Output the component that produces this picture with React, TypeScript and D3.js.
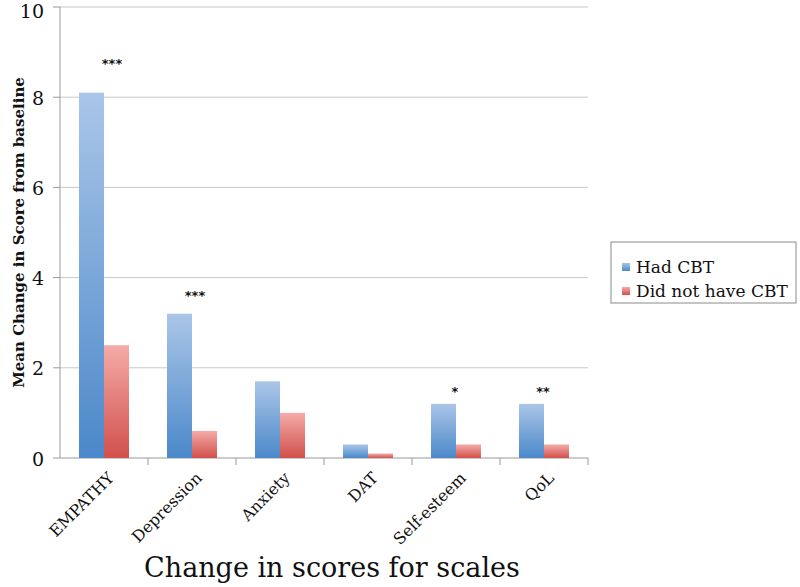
import React from "react";
import * as d3 from "d3";

const categories = ["EMPATHY", "Depression", "Anxiety", "DAT", "Self-esteem", "QoL"];
const hadCBT = [8.1, 3.2, 1.7, 0.3, 1.2, 1.2];
const noCBT = [2.5, 0.6, 1.0, 0.1, 0.3, 0.3];
const stars = ["***", "***", "", "", "*", "**"];
const starValues = [8.65, 3.5, 0, 0, 1.37, 1.37];
const starShift = [8, 3, 0, 0, -1, -1];
const yTicks = [0, 2, 4, 6, 8, 10];
const seriesNames = ["Had CBT", "Did not have CBT"];

export default function App() {
  const W = 800, H = 587;
  const left = 60, right = 588, top = 7, bottom = 458;
  const font = "'DejaVu Serif', serif";
  const x = d3.scaleBand<string>().domain(categories).range([left, right]).paddingInner(0).paddingOuter(0);
  const y = d3.scaleLinear().domain([0, 10]).range([bottom, top]);
  const bw = 25;
  const bandW = x.bandwidth();
  const groupOff = (bandW - 2 * bw) / 2;
  return (
    <svg width={W} height={H} style={{ position: "absolute", left: 0, top: 0, background: "#fff" }}>
      <defs>
        <linearGradient id="gBlue" x1="0" y1="0" x2="0" y2="1">
          <stop offset="0" stopColor="#aac6e8" />
          <stop offset="1" stopColor="#4b88ca" />
        </linearGradient>
        <linearGradient id="gRed" x1="0" y1="0" x2="0" y2="1">
          <stop offset="0" stopColor="#f5aba8" />
          <stop offset="1" stopColor="#d1504b" />
        </linearGradient>
      </defs>
      {yTicks.map((t) => (
        <g key={t}>
          {t > 0 && <line x1={left} x2={right} y1={y(t)} y2={y(t)} stroke="#c8c8c8" strokeWidth={1} />}
          <line x1={left - 7} x2={left} y1={y(t)} y2={y(t)} stroke="#9a9a9a" />
          <text x={44} y={Math.max(y(t) + 1, 11)} dy="0.35em" textAnchor="end" fontFamily={font} fontSize={19} fill="#111">{t}</text>
        </g>
      ))}
      <line x1={left} x2={left} y1={top} y2={bottom} stroke="#9a9a9a" />
      <line x1={left} x2={right} y1={bottom} y2={bottom} stroke="#9a9a9a" />
      {categories.map((c, i) => {
        const x0 = x(c)!;
        return (
          <g key={c}>
            <line x1={x0 + bandW} x2={x0 + bandW} y1={bottom} y2={bottom + 7} stroke="#9a9a9a" />
            <rect x={x0 + groupOff} y={y(hadCBT[i])} width={bw} height={bottom - y(hadCBT[i])} fill="url(#gBlue)" />
            <rect x={x0 + groupOff + bw} y={y(noCBT[i])} width={bw} height={bottom - y(noCBT[i])} fill="url(#gRed)" />
            {stars[i] && (
              <text x={x0 + groupOff + bw + starShift[i]} y={y(starValues[i])} textAnchor="middle" fontFamily="'DejaVu Sans', sans-serif" fontWeight="bold" fontSize={13} fill="#111">{stars[i]}</text>
            )}
            <text transform={`translate(${x0 + bandW / 2 + 7},${bottom + 17}) rotate(-45)`} textAnchor="end" dy="0.35em" fontFamily={font} fontSize={16} fill="#111">{c}</text>
          </g>
        );
      })}
      <text transform={`translate(19,${(top + bottom) / 2}) rotate(-90)`} textAnchor="middle" dy="0.35em" fontFamily={font} fontWeight="bold" fontSize={15} fill="#111">Mean Change in Score from baseline</text>
      <text x={332} y={577} textAnchor="middle" fontFamily={font} fontSize={27} fill="#111">Change in scores for scales</text>
      <rect x={611} y={242} width={185} height={61} fill="#fff" stroke="#8a8a8a" />
      {seriesNames.map((s, i) => (
        <g key={s}>
          <rect x={622} y={263 + i * 24} width={8} height={8} fill={i === 0 ? "url(#gBlue)" : "url(#gRed)"} />
          <text x={636} y={267 + i * 24} dy="0.35em" fontFamily={font} fontSize={17} fill="#111">{s}</text>
        </g>
      ))}
    </svg>
  );
}
